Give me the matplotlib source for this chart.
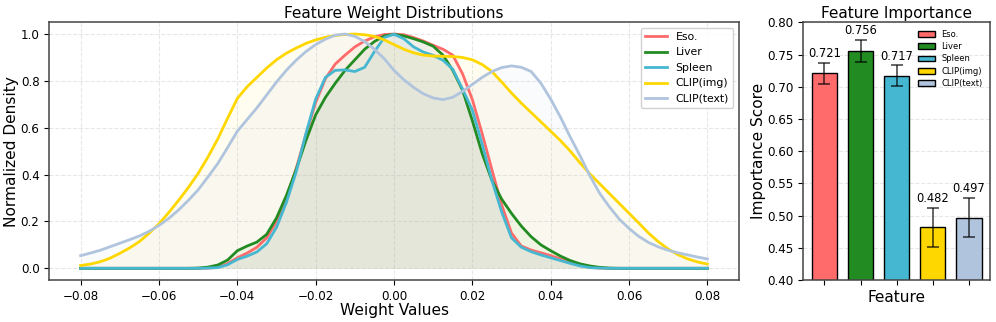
import matplotlib
matplotlib.use("Agg")
import matplotlib.pyplot as plt
import numpy as np

# ---------------- data ----------------
# sample positions (weight values) where densities were read, step 0.0025
weight_x = [round(-0.08 + 0.0025 * i, 4) for i in range(65)]

eso_density = [0.000, 0.000, 0.000, 0.000, 0.000, 0.000, 0.000, 0.000, 0.000,
               0.000, 0.000, 0.000, 0.000, 0.001, 0.004, 0.020, 0.045,
               0.065, 0.090, 0.130, 0.200, 0.300, 0.425, 0.570, 0.708,
               0.810, 0.872, 0.910, 0.945, 0.970, 0.988, 0.998, 1.000,
               0.997, 0.985, 0.970, 0.952, 0.935, 0.910, 0.830, 0.720,
               0.575, 0.420, 0.270, 0.150, 0.095, 0.078, 0.066, 0.054,
               0.040, 0.025, 0.012, 0.004, 0.001, 0.000, 0.000, 0.000,
               0.000, 0.000, 0.000, 0.000, 0.000, 0.000, 0.000, 0.000]

liver_density = [0.000, 0.000, 0.000, 0.000, 0.000, 0.000, 0.000, 0.000, 0.000,
                 0.000, 0.000, 0.000, 0.001, 0.005, 0.014, 0.035, 0.075,
                 0.095, 0.112, 0.145, 0.215, 0.310, 0.420, 0.545, 0.655,
                 0.730, 0.790, 0.845, 0.890, 0.935, 0.968, 0.992, 0.999,
                 0.992, 0.980, 0.966, 0.948, 0.910, 0.845, 0.760, 0.630,
                 0.490, 0.375, 0.295, 0.234, 0.180, 0.135, 0.100, 0.075,
                 0.052, 0.033, 0.019, 0.010, 0.004, 0.001, 0.000, 0.000,
                 0.000, 0.000, 0.000, 0.000, 0.000, 0.000, 0.000, 0.000]

spleen_density = [0.000, 0.000, 0.000, 0.000, 0.000, 0.000, 0.000, 0.000, 0.000,
                  0.000, 0.000, 0.000, 0.000, 0.001, 0.003, 0.015, 0.038,
                  0.052, 0.070, 0.105, 0.175, 0.280, 0.410, 0.575, 0.722,
                  0.815, 0.845, 0.847, 0.840, 0.858, 0.925, 0.985, 0.999,
                  0.980, 0.945, 0.923, 0.909, 0.888, 0.850, 0.765, 0.675,
                  0.530, 0.375, 0.240, 0.130, 0.090, 0.071, 0.057, 0.045,
                  0.033, 0.021, 0.010, 0.003, 0.001, 0.000, 0.000, 0.000,
                  0.000, 0.000, 0.000, 0.000, 0.000, 0.000, 0.000, 0.000]

clip_img_density = [0.012, 0.018, 0.028, 0.043, 0.064, 0.087, 0.114, 0.150, 0.190,
                    0.238, 0.290, 0.345, 0.405, 0.475, 0.552, 0.640, 0.725,
                    0.775, 0.815, 0.855, 0.890, 0.918, 0.940, 0.960, 0.975,
                    0.986, 0.994, 0.998, 1.000, 0.997, 0.990, 0.975, 0.955,
                    0.935, 0.920, 0.910, 0.906, 0.905, 0.904, 0.900, 0.890,
                    0.870, 0.840, 0.795, 0.748, 0.705, 0.665, 0.625, 0.585,
                    0.545, 0.500, 0.450, 0.403, 0.361, 0.319, 0.277, 0.235,
                    0.193, 0.150, 0.113, 0.082, 0.058, 0.040, 0.027, 0.018]

clip_text_density = [0.054, 0.065, 0.077, 0.092, 0.107, 0.122, 0.138, 0.158, 0.183,
                     0.213, 0.249, 0.290, 0.335, 0.390, 0.447, 0.515, 0.585,
                     0.635, 0.685, 0.740, 0.795, 0.845, 0.888, 0.925, 0.955,
                     0.978, 0.995, 1.000, 0.990, 0.968, 0.935, 0.895, 0.845,
                     0.805, 0.772, 0.745, 0.727, 0.720, 0.730, 0.755, 0.785,
                     0.815, 0.840, 0.857, 0.864, 0.858, 0.840, 0.790, 0.722,
                     0.645, 0.560, 0.480, 0.395, 0.320, 0.262, 0.210, 0.170,
                     0.136, 0.110, 0.091, 0.077, 0.066, 0.057, 0.048, 0.040]

series_names = ["Eso.", "Liver", "Spleen", "CLIP(img)", "CLIP(text)"]
series_colors = ["#FF6B6B", "#228B22", "#45B7D1", "#FFD700", "#B0C4DE"]

importance = [0.721, 0.756, 0.717, 0.482, 0.497]
importance_err = [0.016, 0.017, 0.016, 0.030, 0.031]

# ---------------- figure ----------------
fig = plt.figure(figsize=(9.96, 3.22), dpi=100)
ax1 = fig.add_axes([0.0495, 0.1304, 0.6922, 0.8003])
ax2 = fig.add_axes([0.8065, 0.1304, 0.1875, 0.8003])

tick_fs = 8.6
label_fs = 11.1
title_fs = 11.1

densities = [eso_density, liver_density, spleen_density, clip_img_density, clip_text_density]
x = np.array(weight_x)
for name, col, d in zip(series_names, series_colors, densities):
    ax1.plot(x, d, color=col, lw=2, label=name)
    ax1.fill_between(x, d, color=col, alpha=0.06, lw=0)

ax1.set_xticks([-0.08, -0.06, -0.04, -0.02, 0.0, 0.02, 0.04, 0.06, 0.08])
ax1.set_yticks([0.0, 0.2, 0.4, 0.6, 0.8, 1.0])
ax1.tick_params(labelsize=tick_fs)
ax1.set_xlabel("Weight Values", fontsize=label_fs, labelpad=0.5)
ax1.set_ylabel("Normalized Density", fontsize=label_fs, labelpad=1)
ax1.set_title("Feature Weight Distributions", fontsize=title_fs, pad=3)
ax1.grid(True, linestyle="--", alpha=0.3)
ax1.legend(loc="upper right", fontsize=7.8, framealpha=0.9)

pos = np.arange(len(series_names))
ax2.bar(pos, importance, width=0.7, color=series_colors, edgecolor="black", lw=1,
        label=series_names, zorder=2)
ax2.errorbar(pos, importance, yerr=importance_err, fmt="none", ecolor="black",
             elinewidth=1.2, capsize=4, capthick=1.2, alpha=0.7, zorder=3)
for p, v, e in zip(pos, importance, importance_err):
    ax2.text(p, v + e + 0.004, f"{v:.3f}", ha="center", va="bottom", fontsize=8.3)
ax2.set_ylim(0.40, 0.80)
ax2.set_xticks(pos)
ax2.set_xticklabels([])
ax2.tick_params(labelsize=tick_fs)
ax2.set_xlabel("Feature", fontsize=label_fs, labelpad=0.5)
ax2.set_ylabel("Importance Score", fontsize=label_fs, labelpad=1)
ax2.set_title("Feature Importance", fontsize=title_fs, pad=3)
ax2.grid(True, axis="y", linestyle="--", alpha=0.3)
ax2.set_axisbelow(True)
ax2.legend(loc="upper right", fontsize=6, frameon=False, labelspacing=0.4)

for ax in (ax1, ax2):
    for s in ax.spines.values():
        s.set_color("#444444")
        s.set_linewidth(1.1)

fig.savefig("out.png", dpi=100)
